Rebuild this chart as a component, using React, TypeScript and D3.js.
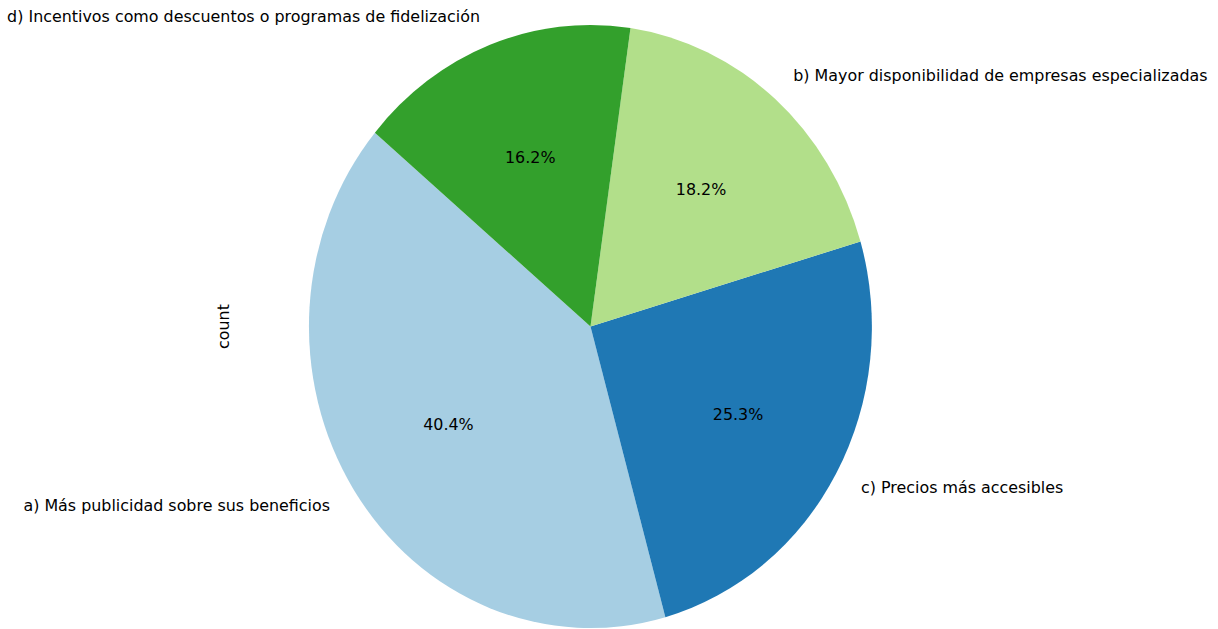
import React from "react";
import * as d3 from "d3";

const categories = [
  "a) Más publicidad sobre sus beneficios",
  "c) Precios más accesibles",
  "b) Mayor disponibilidad de empresas especializadas",
  "d) Incentivos como descuentos o programas de fidelización",
];
const counts = [40, 25, 18, 16];
const colors = ["#a6cee3", "#1f78b4", "#b2df8a", "#33a02c"];
const yLabel = "count";

const W = 1218;
const H = 629;
const cx = 590.5;
const cy = 326.5;
const rx = 281.5;
const ry = 301.5;
const startDeg = 140;

export default function App() {
  const total = d3.sum(counts);
  const s = Math.PI / 2 - (startDeg * Math.PI) / 180;
  const pie = d3
    .pie<number>()
    .sort(null)
    .value((d) => d)
    .startAngle(s)
    .endAngle(s - 2 * Math.PI);
  const arcs = pie(counts);
  const arc = d3.arc<d3.PieArcDatum<number>>().innerRadius(0).outerRadius(1);
  const font = "'DejaVu Sans', sans-serif";
  const fs = 15.9;
  return (
    <svg
      width={W}
      height={H}
      style={{ position: "absolute", left: 0, top: 0, background: "#fff" }}
    >
      <g transform={`translate(${cx},${cy})`}>
        <g transform={`scale(${rx},${ry})`}>
          {arcs.map((a, i) => (
            <path key={i} d={arc(a) as string} fill={colors[i]} />
          ))}
        </g>
        {arcs.map((a, i) => {
          const m = (a.startAngle + a.endAngle) / 2;
          const ux = Math.sin(m);
          const uy = -Math.cos(m);
          return (
            <g key={i}>
              <text
                x={ux * 1.1 * rx}
                y={uy * 1.1 * ry}
                dy="0.35em"
                textAnchor={ux < 0 ? "end" : "start"}
                fontFamily={font}
                fontSize={fs}
                fill="#000"
              >
                {categories[i]}
              </text>
              <text
                x={ux * 0.6 * rx}
                y={uy * 0.6 * ry}
                dy="0.35em"
                textAnchor="middle"
                fontFamily={font}
                fontSize={fs}
                fill="#000"
              >
                {((counts[i] / total) * 100).toFixed(1)}%
              </text>
            </g>
          );
        })}
      </g>
      <text
        transform={`translate(229,${cy}) rotate(-90)`}
        textAnchor="middle"
        fontFamily={font}
        fontSize={fs}
        fill="#000"
      >
        {yLabel}
      </text>
    </svg>
  );
}
